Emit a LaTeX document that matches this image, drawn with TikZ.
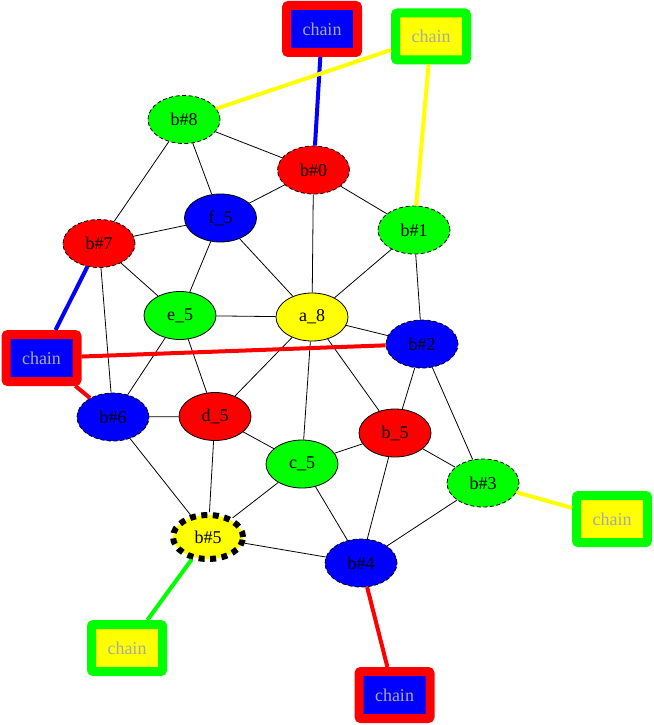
\documentclass[tikz,border=0pt]{standalone}
\usepackage{fontspec}
\setmainfont{Liberation Serif}
\usetikzlibrary{shapes.geometric}
\definecolor{gvred}{HTML}{FF0000}
\definecolor{gvgreen}{HTML}{00FF00}
\definecolor{gvblue}{HTML}{0000FF}
\definecolor{gvyellow}{HTML}{FFFF00}
\definecolor{chaintext}{HTML}{A9A9A9}

\begin{document}
\begin{tikzpicture}[x=1pt,y=-1pt,font=\fontsize{18}{20}\selectfont,
  vert/.style={ellipse,draw=black,line width=0.8pt,minimum width=72pt,minimum height=48pt,inner sep=0pt},
  hub/.style={vert,solid},
  bead/.style={vert,dashed,dash pattern=on 4pt off 2.5pt},
  chainR/.style={draw=gvred,fill=gvblue,line width=9pt,rounded corners=2pt,minimum width=71pt,minimum height=47pt,text=chaintext},
  chainG/.style={draw=gvgreen,fill=gvyellow,line width=9pt,rounded corners=2pt,minimum width=71pt,minimum height=47pt,text=chaintext},
  link/.style={line width=0.8pt},
  tie/.style={line width=4pt}]
\useasboundingbox (0,0) rectangle (653,725);
% inner vertices
\node[hub,fill=gvyellow] (a8) at (312,317) {a\_8};
\node[hub,fill=gvred] (b5) at (395,433) {b\_5};
\node[hub,fill=gvgreen] (c5) at (302,464) {c\_5};
\node[hub,fill=gvred] (d5) at (215,416.5) {d\_5};
\node[hub,fill=gvgreen] (e5) at (180,315.5) {e\_5};
\node[hub,fill=gvblue] (f5) at (220.5,218) {f\_5};
% boundary vertices
\node[bead,fill=gvred] (bk0) at (313.5,170) {b\#0};
\node[bead,fill=gvgreen] (bk1) at (414,230) {b\#1};
\node[bead,fill=gvblue] (bk2) at (422,344) {b\#2};
\node[bead,fill=gvgreen] (bk3) at (483,483) {b\#3};
\node[bead,fill=gvblue] (bk4) at (361,563) {b\#4};
\node[vert,fill=gvyellow,line width=6pt,dash pattern=on 6pt off 5.5pt,minimum width=70pt,minimum height=44pt] (bk5) at (208,537) {b\#5};
\node[bead,fill=gvblue] (bk6) at (113,417) {b\#6};
\node[bead,fill=gvred] (bk7) at (99,243.5) {b\#7};
\node[bead,fill=gvgreen] (bk8) at (184,119.5) {b\#8};
% chains
\node[chainR] (chT) at (322,29) {chain};
\node[chainG] (chTR) at (431,36.5) {chain};
\node[chainR] (chL) at (41.5,358) {chain};
\node[chainG] (chR) at (612,519) {chain};
\node[chainR] (chB) at (394.5,695) {chain};
\node[chainG] (chBL) at (127,648) {chain};
% edges
\foreach \u/\v in {bk8/bk0,bk8/f5,bk8/bk7,bk0/f5,bk0/a8,bk0/bk1,f5/bk7,f5/e5,f5/a8,
  bk7/e5,bk7/bk6,e5/a8,e5/d5,e5/bk6,a8/bk1,a8/bk2,a8/d5,a8/c5,a8/b5,bk1/bk2,
  bk2/b5,bk2/bk3,d5/bk6,d5/c5,d5/bk5,bk6/bk5,c5/b5,c5/bk5,c5/bk4,b5/bk3,b5/bk4,
  bk3/bk4,bk5/bk4}
  \draw[link] (\u)--(\v);
% chain ties
\draw[tie,gvblue] (chT)--(bk0);
\draw[tie,gvyellow] (chTR)--(bk8);
\draw[tie,gvyellow] (chTR)--(bk1);
\draw[tie,gvblue] (chL)--(bk7);
\draw[tie,gvred] (chL)--(bk2);
\draw[tie,gvred] (chL)--(bk6);
\draw[tie,gvyellow] (chR)--(bk3);
\draw[tie,gvred] (chB)--(bk4);
\draw[tie,gvgreen] (chBL)--(bk5);
\end{tikzpicture}
\end{document}
